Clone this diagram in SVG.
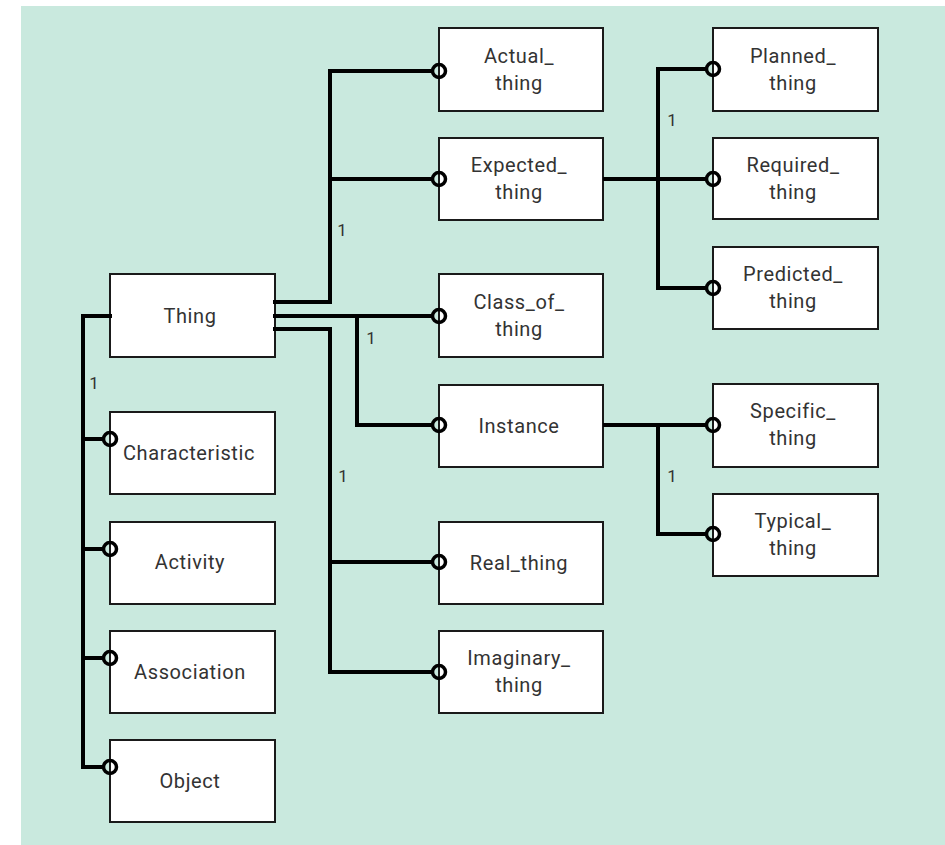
<svg xmlns="http://www.w3.org/2000/svg" width="945" height="845" viewBox="0 0 945 845">
  <style>
    .box { fill: #ffffff; stroke: #1a1a1a; stroke-width: 2; }
    .lbl { font-family: Roboto, "Liberation Sans", sans-serif; font-size: 20px; letter-spacing: 0.6px; fill: #333333; text-anchor: middle; }
    .card { font-family: Roboto, "Liberation Sans", sans-serif; font-size: 17px; fill: #333333; text-anchor: middle; }
    .wire { fill: none; stroke: #000000; stroke-width: 4; stroke-linejoin: miter; stroke-linecap: butt; }
    .opt { fill: none; stroke: #000000; stroke-width: 3.5; }
  </style>

  <!-- backdrop -->
  <rect x="21" y="6" width="924" height="839" fill="#c9e9de"/>

  <!-- left column -->
  <g id="thing">
    <rect class="box" x="110" y="274" width="165" height="83"/>
    <text class="lbl" x="190" y="323">Thing</text>
  </g>
  <g id="characteristic">
    <rect class="box" x="110" y="412" width="165" height="82"/>
    <text class="lbl" x="189" y="460">Characteristic</text>
  </g>
  <g id="activity">
    <rect class="box" x="110" y="522" width="165" height="82"/>
    <text class="lbl" x="190" y="569">Activity</text>
  </g>
  <g id="association">
    <rect class="box" x="110" y="631" width="165" height="82"/>
    <text class="lbl" x="190" y="679">Association</text>
  </g>
  <g id="object">
    <rect class="box" x="110" y="740" width="165" height="82"/>
    <text class="lbl" x="190" y="788">Object</text>
  </g>

  <!-- middle column -->
  <g id="actual-thing">
    <rect class="box" x="439" y="28" width="164" height="83"/>
    <text class="lbl" x="519" y="63">Actual_</text>
    <text class="lbl" x="519" y="90">thing</text>
  </g>
  <g id="expected-thing">
    <rect class="box" x="439" y="138" width="164" height="82"/>
    <text class="lbl" x="519" y="172">Expected_</text>
    <text class="lbl" x="519" y="199">thing</text>
  </g>
  <g id="class-of-thing">
    <rect class="box" x="439" y="274" width="164" height="83"/>
    <text class="lbl" x="519" y="309">Class_of_</text>
    <text class="lbl" x="519" y="336">thing</text>
  </g>
  <g id="instance">
    <rect class="box" x="439" y="385" width="164" height="82"/>
    <text class="lbl" x="519" y="433">Instance</text>
  </g>
  <g id="real-thing">
    <rect class="box" x="439" y="522" width="164" height="82"/>
    <text class="lbl" x="519" y="570">Real_thing</text>
  </g>
  <g id="imaginary-thing">
    <rect class="box" x="439" y="631" width="164" height="82"/>
    <text class="lbl" x="519" y="665">Imaginary_</text>
    <text class="lbl" x="519" y="692">thing</text>
  </g>

  <!-- right column -->
  <g id="planned-thing">
    <rect class="box" x="713" y="28" width="165" height="83"/>
    <text class="lbl" x="793" y="63">Planned_</text>
    <text class="lbl" x="793" y="90">thing</text>
  </g>
  <g id="required-thing">
    <rect class="box" x="713" y="138" width="165" height="81"/>
    <text class="lbl" x="793" y="172">Required_</text>
    <text class="lbl" x="793" y="199">thing</text>
  </g>
  <g id="predicted-thing">
    <rect class="box" x="713" y="247" width="165" height="82"/>
    <text class="lbl" x="793" y="281">Predicted_</text>
    <text class="lbl" x="793" y="308">thing</text>
  </g>
  <g id="specific-thing">
    <rect class="box" x="713" y="384" width="165" height="83"/>
    <text class="lbl" x="793" y="418">Specific_</text>
    <text class="lbl" x="793" y="445">thing</text>
  </g>
  <g id="typical-thing">
    <rect class="box" x="713" y="494" width="165" height="82"/>
    <text class="lbl" x="793" y="528">Typical_</text>
    <text class="lbl" x="793" y="555">thing</text>
  </g>

  <!-- connectors, drawn over the box borders -->
  <g id="connectors">
    <!-- Thing to its subtypes on the right -->
    <path class="wire" d="M273,302 H330 V71 H433"/>
    <path class="wire" d="M330,179 H433"/>
    <path class="wire" d="M273,316 H433"/>
    <path class="wire" d="M357,316 V425 H433"/>
    <path class="wire" d="M273,329 H330 V672 H433"/>
    <path class="wire" d="M330,562 H433"/>
    <!-- Expected_thing to its subtypes -->
    <path class="wire" d="M603,179 H707"/>
    <path class="wire" d="M707,69 H658 V288 H707"/>
    <!-- Instance to its subtypes -->
    <path class="wire" d="M603,425 H707"/>
    <path class="wire" d="M658,425 V534 H707"/>
    <!-- Thing to the left-hand column -->
    <path class="wire" d="M112,316 H83 V767 H104"/>
    <path class="wire" d="M83,439 H104"/>
    <path class="wire" d="M83,549 H104"/>
    <path class="wire" d="M83,658 H104"/>

    <!-- optional-end circles -->
    <circle class="opt" cx="439" cy="71" r="6.5"/>
    <circle class="opt" cx="439" cy="179" r="6.5"/>
    <circle class="opt" cx="439" cy="316" r="6.5"/>
    <circle class="opt" cx="439" cy="425" r="6.5"/>
    <circle class="opt" cx="439" cy="562" r="6.5"/>
    <circle class="opt" cx="439" cy="672" r="6.5"/>
    <circle class="opt" cx="713" cy="69" r="6.5"/>
    <circle class="opt" cx="713" cy="179" r="6.5"/>
    <circle class="opt" cx="713" cy="288" r="6.5"/>
    <circle class="opt" cx="713" cy="425" r="6.5"/>
    <circle class="opt" cx="713" cy="534" r="6.5"/>
    <circle class="opt" cx="110" cy="439" r="6.5"/>
    <circle class="opt" cx="110" cy="549" r="6.5"/>
    <circle class="opt" cx="110" cy="658" r="6.5"/>
    <circle class="opt" cx="110" cy="767" r="6.5"/>

    <!-- cardinalities -->
    <text class="card" x="342" y="236">1</text>
    <text class="card" x="371" y="344">1</text>
    <text class="card" x="343" y="482">1</text>
    <text class="card" x="94" y="389">1</text>
    <text class="card" x="672" y="126">1</text>
    <text class="card" x="672" y="482">1</text>
  </g>
</svg>
